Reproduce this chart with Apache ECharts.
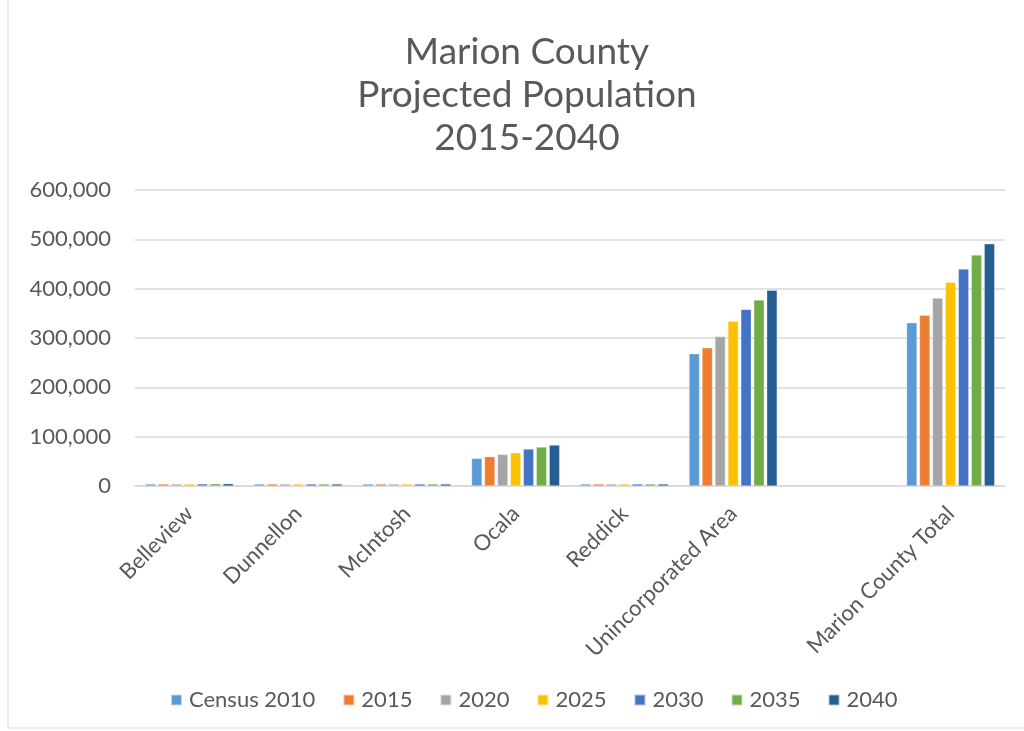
<!DOCTYPE html>
<html>
<head>
<meta charset="utf-8">
<script src="https://cdn.jsdelivr.net/npm/echarts@6/dist/echarts.min.js"></script>
<style>
html, body { margin: 0; padding: 0; background: #fff; }
#popChart { width: 1024px; height: 731px; }
</style>
</head>
<body>
<div id="popChart"></div>
<script>
var categories = ['Belleview', 'Dunnellon', 'McIntosh', 'Ocala', 'Reddick', 'Unincorporated Area', '', 'Marion County Total'];
var seriesNames = ['Census 2010', '2015', '2020', '2025', '2030', '2035', '2040'];
var census2010 = [3500, 1700, 450, 56000, 500, 268000, null, 331000];
var y2015 = [3700, 1800, 470, 59500, 520, 280000, null, 346000];
var y2020 = [3900, 1900, 490, 64000, 540, 303000, null, 381000];
var y2025 = [4100, 2000, 510, 67500, 560, 334000, null, 413000];
var y2030 = [4300, 2100, 530, 75000, 580, 358000, null, 440000];
var y2035 = [4500, 2200, 550, 79000, 600, 377000, null, 468000];
var y2040 = [4700, 2300, 570, 83000, 620, 397000, null, 491000];
var yTicks = [0, 100000, 200000, 300000, 400000, 500000, 600000];

var allValues = [census2010, y2015, y2020, y2025, y2030, y2035, y2040];
var colors = ['#5b9bd5', '#ed7d31', '#a5a5a5', '#ffc000', '#4472c4', '#70ad47', '#255e91'];
var font = 'Lato, "Open Sans", sans-serif';

var popChart = echarts.init(document.getElementById('popChart'));

var series = [];
for (var i = 0; i < seriesNames.length; i++) {
	series.push({
		name: seriesNames[i],
		type: 'bar',
		data: allValues[i],
		barGap: '24%',
		barCategoryGap: '19%',
		barMinHeight: 2,
		itemStyle: { color: colors[i], borderColor: 'rgba(255,255,255,0.6)', borderWidth: 0.5 }
	});
}

var option = {
	backgroundColor: '#fff',
	color: colors,
	title: {
		text: 'Marion County\nProjected Population\n2015-2040',
		left: 522,
		top: 26,
		textAlign: 'center',
		textStyle: { fontFamily: font, fontSize: 37, fontWeight: 'normal', color: '#595959', lineHeight: 43 }
	},
	legend: {
		bottom: 15,
		left: 165,
		itemWidth: 11,
		itemHeight: 11,
		itemGap: 27,
		icon: 'rect',
		textStyle: { fontFamily: font, fontSize: 22, color: '#595959', padding: [0, 0, 0, 2] },
		data: seriesNames
	},
	grid: { left: 135, right: 19, top: 190, bottom: 245 },
	xAxis: {
		type: 'category',
		data: categories,
		axisLine: { lineStyle: { color: '#d9d9d9', width: 1.5 } },
		axisTick: { show: false },
		axisLabel: { rotate: 45, interval: 0, margin: 24, fontFamily: font, fontSize: 22, color: '#595959' }
	},
	yAxis: {
		type: 'value',
		min: yTicks[0],
		max: yTicks[yTicks.length - 1],
		interval: 100000,
		axisLine: { show: false },
		axisTick: { show: false },
		splitLine: { lineStyle: { color: '#d9d9d9', width: 1.5 } },
		axisLabel: {
			margin: 24,
			fontFamily: font, fontSize: 22, color: '#595959',
			formatter: function (v) { return v.toLocaleString('en-US'); }
		}
	},
	graphic: [{
		type: 'polyline',
		shape: { points: [[8, 0], [8, 728], [1024, 728]] },
		style: { fill: null, stroke: '#d9d9d9', lineWidth: 1 },
		silent: true
	}],
	series: series
};
popChart.setOption(option, true);
</script>
</body>
</html>
